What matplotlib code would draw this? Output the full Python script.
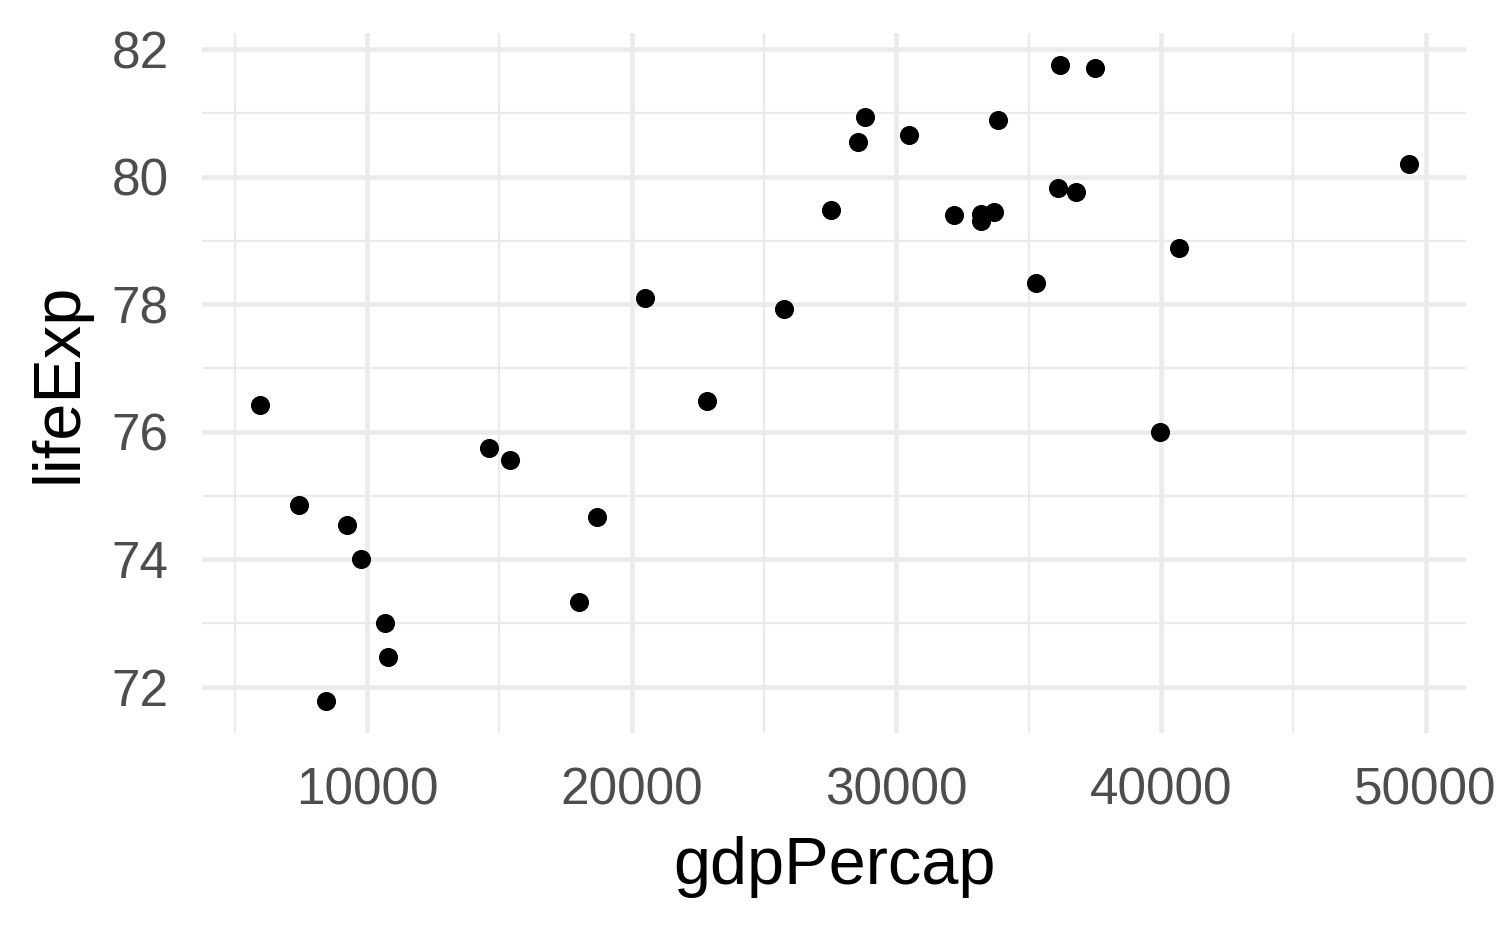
import matplotlib
matplotlib.use("Agg")
import matplotlib.pyplot as plt
from matplotlib.ticker import MultipleLocator

gdp_percap = [5937.03, 36126.49, 33692.61, 7446.30, 10680.79, 14619.22, 22833.31,
              35278.42, 33207.08, 30470.02, 32170.37, 27538.41, 18008.94, 36180.79,
              40675.00, 28569.72, 9253.90, 36797.93, 49357.19, 15389.92, 20509.65,
              10808.48, 9786.53, 18678.31, 25768.26, 28821.06, 33859.75, 37506.42,
              8458.28, 33203.26, 39970.00]
life_exp = [76.423, 79.829, 79.441, 74.852, 73.005, 75.748, 76.486,
            78.332, 79.313, 80.657, 79.406, 79.483, 73.338, 81.757,
            78.885, 80.546, 74.543, 79.762, 80.196, 75.563, 78.098,
            72.476, 74.002, 74.663, 77.926, 80.941, 80.884, 81.701,
            71.777, 79.425, 76.000]

plt.rcParams["font.family"] = ["Liberation Sans", "DejaVu Sans"]

fig = plt.figure(figsize=(5, 3.09), dpi=300)
ax = fig.add_axes([0.1347, 0.2093, 0.8426, 0.7551])

ax.scatter(gdp_percap, life_exp, s=21, color="black", linewidths=0, zorder=3)

ax.set_xlim(3766, 51528)
ax.set_ylim(71.278, 82.256)
ax.xaxis.set_major_locator(MultipleLocator(10000))
ax.xaxis.set_minor_locator(MultipleLocator(5000))
ax.yaxis.set_major_locator(MultipleLocator(2))
ax.yaxis.set_minor_locator(MultipleLocator(1))

ax.grid(which="major", color="#EBEBEB", linewidth=1.1)
ax.grid(which="minor", color="#EBEBEB", linewidth=0.55)
ax.set_axisbelow(True)
for s in ax.spines.values():
    s.set_visible(False)

ax.tick_params(which="both", length=0)
ax.tick_params(axis="x", labelsize=12.3, labelcolor="#4D4D4D", pad=8)
ax.tick_params(axis="y", labelsize=12.3, labelcolor="#4D4D4D", pad=8)

ax.set_xlabel("gdpPercap", fontsize=16, labelpad=5)
ax.set_ylabel("lifeExp", fontsize=16, labelpad=5)

fig.savefig("out.png", dpi=300)
